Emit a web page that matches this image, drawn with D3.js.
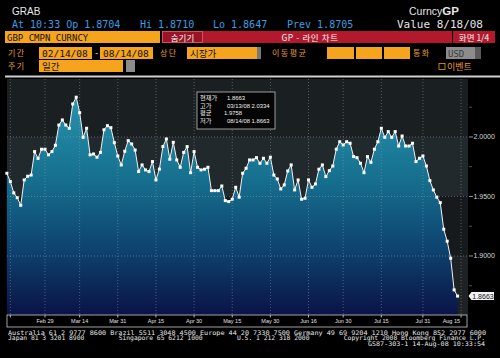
<!DOCTYPE html>
<html>
<head>
<meta charset="utf-8">
<script src="https://cdnjs.cloudflare.com/ajax/libs/d3/7.8.5/d3.min.js"></script>
<style>
  html, body { margin: 0; padding: 0; background: #000; }
  svg { display: block; }
</style>
</head>
<body>
<div id="chart"></div>
<script>
// GBP daily closes, 02/14/08 - 08/14/08 (weekdays)
const startDate = "2008-02-14";
const endDate = "2008-08-14";
const values = [
  1.9695, 1.9625, 1.9530, 1.9490, 1.9426, 1.9639, 1.9670, 1.9680, 1.9877, 1.9820,
  1.9897, 1.9897, 1.9850, 1.9877, 1.9930, 2.0100, 2.0143, 2.0100, 2.0073, 2.0277,
  2.0334, 2.0204, 1.9997, 2.0073, 1.9850, 1.9857, 1.9830, 1.9870, 2.0060, 2.0095,
  2.0078, 1.9952, 1.9840, 1.9765, 1.9880, 1.9969, 1.9941, 1.9890, 1.9709, 1.9765,
  1.9723, 1.9709, 1.9793, 1.9639, 1.9730, 1.9919, 1.9983, 1.9813, 1.9955, 1.9807,
  1.9745, 1.9870, 1.9919, 1.9700, 1.9877, 1.9745, 1.9723, 1.9729, 1.9745, 1.9549,
  1.9549, 1.9549, 1.9588, 1.9465, 1.9457, 1.9477, 1.9577, 1.9494, 1.9695, 1.9737,
  1.9807, 1.9807, 1.9826, 1.9779, 1.9821, 1.9779, 1.9830, 1.9680, 1.9647, 1.9563,
  1.9597, 1.9714, 1.9765, 1.9555, 1.9639, 1.9477, 1.9485, 1.9639, 1.9577, 1.9605,
  1.9729, 1.9765, 1.9667, 1.9717, 1.9756, 1.9897, 1.9960, 1.9933, 1.9960, 1.9947,
  1.9835, 1.9826, 1.9779, 1.9700, 1.9835, 1.9787, 1.9897, 1.9960, 2.0073, 1.9997,
  2.0045, 1.9997, 2.0045, 1.9924, 2.0008, 1.9924, 1.9924, 1.9947, 1.9793, 1.9821,
  1.9840, 1.9756, 1.9633, 1.9555, 1.9494, 1.9448, 1.9225, 1.9124, 1.8981, 1.8715,
  1.8663
];

const tickDates = ["2008-02-15", "2008-02-29", "2008-03-14", "2008-03-31", "2008-04-15", "2008-04-30",
  "2008-05-15", "2008-05-30", "2008-06-16", "2008-06-30", "2008-07-15", "2008-07-31", "2008-08-15"];
const tickLabels = ["", "Feb 29", "Mar 14", "Mar 31", "Apr 15", "Apr 30",
  "May 15", "May 30", "Jun 16", "Jun 30", "Jul 15", "Jul 31", "Aug 15"];

const yTicks = [1.90, 1.95, 2.00];
const yMinorTicks = [1.875, 1.925, 1.975, 2.025];
const lastValue = 1.8663;

const statLabels = ["현재가", "고가", "평균", "저가"];
const statValues = ["1.8663", "03/13/08 2.0334", "1.9758", "08/14/08 1.8663"];

const quoteParts = [
  { text: "At 10:33 Op 1.8704", x: 12 },
  { text: "Hi 1.8710", x: 140 },
  { text: "Lo 1.8647", x: 213 },
  { text: "Prev 1.8705", x: 287 }
];

const footerLines = [
  "Australia 61 2 9777 8600 Brazil 5511 3048 4500 Europe 44 20 7330 7500 Germany 49 69 9204 1210 Hong Kong 852 2977 6000",
  "Japan 81 3 3201 8900         Singapore 65 6212 1000         U.S. 1 212 318 2000         Copyright 2008 Bloomberg Finance L.P.",
  "GS87-303-1 14-Aug-08 10:33:54"
];

const W = 500, H = 358;
const plot = { left: 7, right: 468, top: 79, bottom: 315 };
const orange = "#f6a31e";
const red = "#b3192d";
const mono = "'DejaVu Sans Mono', 'Liberation Mono', monospace";
const sans = "'Liberation Sans', 'DejaVu Sans', Arial, sans-serif";
const kr = "'Noto Sans CJK KR', sans-serif";

// trading-day index for a date (weekdays counted from the start)
const t0 = new Date(startDate + "T00:00:00");
const isWeekday = d => d.getDay() !== 0 && d.getDay() !== 6;
const dayIndex = s => d3.timeDay.range(t0, new Date(s + "T00:00:00")).filter(isWeekday).length;

const x = d3.scaleLinear().domain([0, 133]).range([6.86, plot.right]);
const y = d3.scaleLinear().domain([1.8504, 2.0487]).range([plot.bottom, plot.top]);

const svg = d3.select("#chart").append("svg")
  .attr("width", W).attr("height", H)
  .style("background", "#000");

// ---------- header ----------
svg.append("text").attr("x", 12).attr("y", 15).text("GRAB")
  .attr("font-family", sans).attr("font-size", 10).attr("fill", "#e6e6e6");

const gp = svg.append("text").attr("x", 409).attr("y", 15)
  .attr("font-family", sans).attr("font-size", 10.5).attr("fill", "#e6e6e6");
gp.append("tspan").text("Curncy");
gp.append("tspan").text("GP").attr("font-weight", "bold").attr("font-size", 11.5);

svg.append("g").selectAll("text").data(quoteParts).join("text")
  .attr("x", d => d.x).attr("y", 28).text(d => d.text)
  .attr("font-family", mono).attr("font-size", 10).attr("fill", "#3b9ee0");

svg.append("text").attr("x", 397).attr("y", 28).text("Value  8/18/08")
  .attr("font-family", mono).attr("font-size", 10).attr("fill", "#e6e6e6")
  .attr("textLength", 86).attr("lengthAdjust", "spacingAndGlyphs");

// row 1: security + title bar
svg.append("rect").attr("x", 5).attr("y", 31).attr("width", 155).attr("height", 12).attr("fill", orange);
svg.append("text").attr("x", 7).attr("y", 40.5).text("GBP CMPN CURNCY")
  .attr("font-family", mono).attr("font-size", 9).attr("fill", "#111");
svg.append("rect").attr("x", 162).attr("y", 31).attr("width", 290).attr("height", 12).attr("fill", red);
svg.append("rect").attr("x", 162.5).attr("y", 31.5).attr("width", 40).attr("height", 11)
  .attr("fill", "#9a1426").attr("stroke", "#d9606e").attr("stroke-width", 0.8);
svg.append("text").attr("x", 182.5).attr("y", 40.5).text("숨기기").attr("text-anchor", "middle")
  .attr("font-family", kr).attr("font-size", 8.5).attr("fill", "#f4f4f4");
svg.append("text").attr("x", 310).attr("y", 40.5).text("GP - 라인 차트").attr("text-anchor", "middle")
  .attr("font-family", kr).attr("font-size", 8.5).attr("fill", "#f4f4f4").attr("letter-spacing", 0.6);
svg.append("rect").attr("x", 453).attr("y", 31).attr("width", 42).attr("height", 12).attr("fill", red);
svg.append("text").attr("x", 474).attr("y", 40.5).text("화면 1/4").attr("text-anchor", "middle")
  .attr("font-family", kr).attr("font-size", 8.5).attr("fill", "#f4f4f4");

// row 2: period fields
const labelColor = "#e99a2c";
const fieldLabel = (tx, ty, s) => svg.append("text").attr("x", tx).attr("y", ty).text(s)
  .attr("font-family", kr).attr("font-size", 8).attr("fill", labelColor).attr("letter-spacing", 1.5);
const box = (bx, by, bw, s) => {
  svg.append("rect").attr("x", bx).attr("y", by).attr("width", bw).attr("height", 12).attr("fill", orange);
  if (s) svg.append("text").attr("x", bx + 3).attr("y", by + 9.5).text(s)
    .attr("font-family", /[가-힣]/.test(s) ? kr : mono).attr("font-size", 9.5).attr("fill", "#111");
};
fieldLabel(8, 56, "기간");
box(39, 47, 53, "02/14/08");
svg.append("text").attr("x", 94).attr("y", 56).text("-").attr("font-family", mono)
  .attr("font-size", 9).attr("fill", "#ddd");
box(100, 47, 53, "08/14/08");
fieldLabel(160, 56, "상단");
box(187, 47, 70, "시장가");
svg.append("rect").attr("x", 257).attr("y", 47).attr("width", 4).attr("height", 12).attr("fill", "#777");
fieldLabel(272, 56, "이동평균");
box(327, 47, 27, "");
box(356, 47, 26, "");
box(384, 47, 26, "");
fieldLabel(413, 56, "통화");
svg.append("rect").attr("x", 446).attr("y", 47).attr("width", 35).attr("height", 12).attr("fill", "#8c8c8c");
svg.append("rect").attr("x", 475).attr("y", 47).attr("width", 6).attr("height", 12).attr("fill", "#5a5a5a");
svg.append("text").attr("x", 448).attr("y", 56.5).text("USD").attr("font-family", mono)
  .attr("font-size", 9).attr("fill", "#3c3c3c");

// row 3
fieldLabel(8, 69, "주기");
box(39, 60, 84, "일간");
svg.append("rect").attr("x", 126).attr("y", 60).attr("width", 9).attr("height", 12).attr("fill", "#8c8c8c");
svg.append("rect").attr("x", 439).attr("y", 63.5).attr("width", 6).attr("height", 6)
  .attr("fill", "none").attr("stroke", labelColor).attr("stroke-width", 0.8);
svg.append("text").attr("x", 447).attr("y", 70).text("이벤트")
  .attr("font-family", kr).attr("font-size", 9).attr("fill", labelColor);

// panel top rule
svg.append("rect").attr("x", 5).attr("y", 75.5).attr("width", 495).attr("height", 2).attr("fill", "#cfcfcf");

// ---------- plot ----------
const bands = [
  { from: 2.0, to: 2.0487, fill: "#1a1f22" },
  { from: 1.95, to: 2.0, fill: "#22292d" },
  { from: 1.90, to: 1.95, fill: "#161a1d" },
  { from: 1.8504, to: 1.90, fill: "#1e2225" }
];
svg.append("g").selectAll("rect").data(bands).join("rect")
  .attr("x", plot.left).attr("width", plot.right - plot.left)
  .attr("y", d => y(d.to)).attr("height", d => y(d.from) - y(d.to))
  .attr("fill", d => d.fill);

const defs = svg.append("defs");
const grad = defs.append("linearGradient").attr("id", "fillGrad")
  .attr("gradientUnits", "userSpaceOnUse")
  .attr("x1", 0).attr("x2", 0).attr("y1", 90).attr("y2", plot.bottom);
[[0, "#2896b1"], [0.4, "#166f8e"], [0.7, "#0e4470"], [1, "#0a1346"]].forEach(([o, c]) =>
  grad.append("stop").attr("offset", o).attr("stop-color", c));

const area = d3.area()
  .x((d, i) => x(i)).y0(plot.bottom).y1(d => y(d));
svg.append("path").datum(values).attr("d", area).attr("fill", "url(#fillGrad)");

// grid
const gridColor = "#8fa0a8";
svg.append("g").selectAll("line").data(tickDates).join("line")
  .attr("x1", d => x(dayIndex(d))).attr("x2", d => x(dayIndex(d)))
  .attr("y1", plot.top).attr("y2", plot.bottom)
  .attr("stroke", gridColor).attr("stroke-width", 0.7).attr("stroke-dasharray", "1,2")
  .attr("opacity", 0.7);
svg.append("g").selectAll("line").data(yTicks).join("line")
  .attr("x1", plot.left).attr("x2", plot.right)
  .attr("y1", d => y(d)).attr("y2", d => y(d))
  .attr("stroke", gridColor).attr("stroke-width", 0.7).attr("stroke-dasharray", "1,2")
  .attr("opacity", 0.8);

// line + markers
const line = d3.line().x((d, i) => x(i)).y(d => y(d));
svg.append("path").datum(values).attr("d", line)
  .attr("fill", "none").attr("stroke", "#f2f2f2").attr("stroke-width", 1);
svg.append("g").selectAll("rect").data(values).join("rect")
  .attr("x", (d, i) => x(i) - 1.5).attr("y", d => y(d) - 1.5)
  .attr("width", 3).attr("height", 3).attr("fill", "#ffffff");

// right axis
const yAxis = svg.append("g");
yAxis.selectAll("line.major").data(yTicks).join("line").attr("class", "major")
  .attr("x1", plot.right + 1).attr("x2", plot.right + 5)
  .attr("y1", d => y(d)).attr("y2", d => y(d))
  .attr("stroke", "#bbb").attr("stroke-width", 0.8);
yAxis.selectAll("line.minor").data(yMinorTicks).join("line").attr("class", "minor")
  .attr("x1", plot.right + 1).attr("x2", plot.right + 4)
  .attr("y1", d => y(d)).attr("y2", d => y(d))
  .attr("stroke", "#666").attr("stroke-width", 0.8);
yAxis.selectAll("text").data(yTicks).join("text")
  .attr("x", plot.right + 5.5).attr("y", d => y(d) + 2.5)
  .text(d => d3.format(".4f")(d))
  .attr("font-family", sans).attr("font-size", 7).attr("fill", "#d8d8d8");

// last value tag
const ly = y(lastValue);
svg.append("path")
  .attr("d", `M${plot.right + 0.5},${ly} L${plot.right + 3.5},${ly - 4} H${plot.right + 26} V${ly + 4} H${plot.right + 3.5} Z`)
  .attr("fill", "#f2f2f2");
svg.append("text").attr("x", plot.right + 15).attr("y", ly + 2.5).text(d3.format(".4f")(lastValue))
  .attr("text-anchor", "middle").attr("font-family", sans).attr("font-size", 7).attr("fill", "#111");

// x-axis strip
svg.append("rect").attr("x", plot.left).attr("y", plot.bottom).attr("width", plot.right - plot.left - 1)
  .attr("height", 12).attr("fill", "#000").attr("stroke", "#c8c8c8").attr("stroke-width", 0.8);
svg.append("g").selectAll("line").data(tickDates).join("line")
  .attr("x1", d => x(dayIndex(d))).attr("x2", d => x(dayIndex(d)))
  .attr("y1", plot.bottom).attr("y2", plot.bottom + 2.5)
  .attr("stroke", "#ddd").attr("stroke-width", 0.8);
svg.append("g").selectAll("text").data(tickDates).join("text")
  .attr("x", (d, i) => i === tickDates.length - 1 ? x(dayIndex(d)) - 1 : x(dayIndex(d)))
  .attr("y", plot.bottom + 7.5)
  .attr("text-anchor", (d, i) => i === tickDates.length - 1 ? "end" : "middle")
  .text((d, i) => tickLabels[i])
  .attr("font-family", sans).attr("font-size", 5.5).attr("fill", "#e0e0e0");

// stats box
const sb = svg.append("g").attr("transform", "translate(197,92)");
sb.append("rect").attr("width", 78).attr("height", 37).attr("fill", "#050505")
  .attr("stroke", "#bfbfbf").attr("stroke-width", 0.8);
sb.selectAll("text.l").data(statLabels).join("text").attr("class", "l")
  .attr("x", 3).attr("y", (d, i) => 8 + i * 7.6).text(d => d)
  .attr("font-family", kr).attr("font-size", 6.2).attr("fill", "#f0f0f0");
sb.selectAll("text.v").data(statValues).join("text").attr("class", "v")
  .attr("x", (d, i) => i === 2 ? 27 : 30).attr("y", (d, i) => 8 + i * 7.6).text(d => d)
  .attr("font-family", sans).attr("font-size", 5.9).attr("fill", "#f0f0f0");

// ---------- footer ----------
const footerSpec = [
  { x: 8, y: 334.5, len: 478 },
  { x: 8, y: 340, len: 477 },
  { x: 368, y: 345.5, len: 117 }
];
svg.append("g").selectAll("text").data(footerLines).join("text")
  .attr("x", (d, i) => footerSpec[i].x).attr("y", (d, i) => footerSpec[i].y)
  .attr("textLength", (d, i) => footerSpec[i].len).attr("lengthAdjust", "spacingAndGlyphs")
  .text(d => d).attr("xml:space", "preserve").style("white-space", "pre")
  .attr("font-family", mono).attr("font-size", 6.3).attr("fill", "#e8e8e8");
</script>
</body>
</html>
